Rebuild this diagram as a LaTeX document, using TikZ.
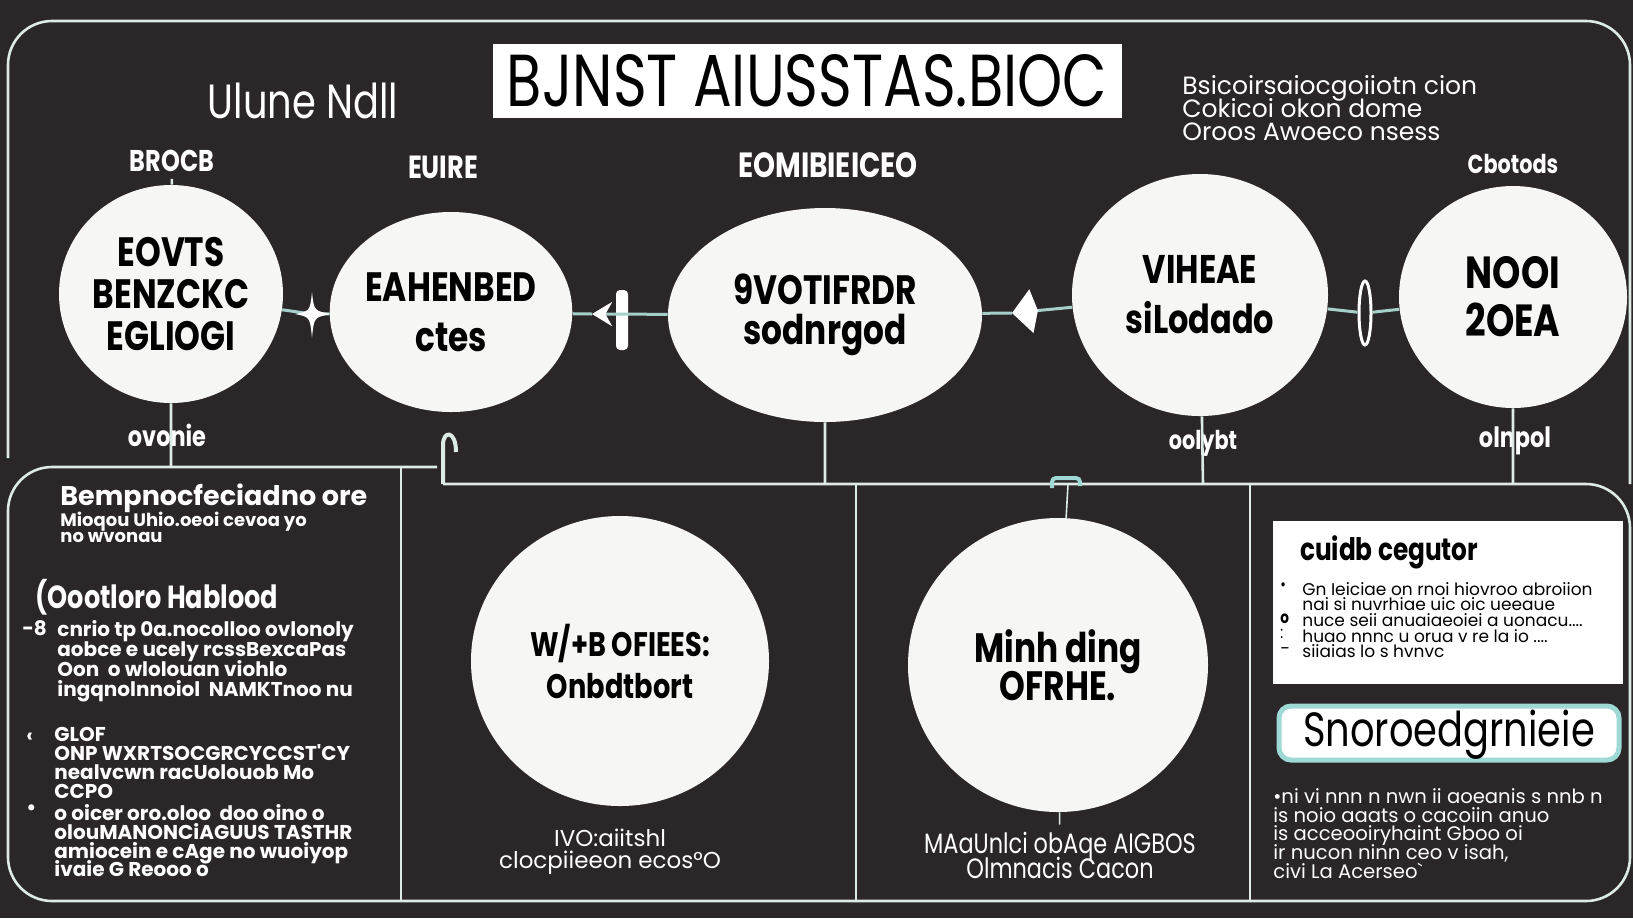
\documentclass[tikz,border=0pt]{standalone}
\usepackage{fontspec}
\usepackage{graphicx}
\setmainfont{Poppins}[FakeStretch=0.8]
\newfontfamily\widefont{Poppins}
\usetikzlibrary{shapes.geometric,arrows.meta}
\definecolor{bgdark}{HTML}{2B2729}
\definecolor{wirec}{HTML}{DCEBE3}
\definecolor{bubblec}{HTML}{F6F6F4}
\definecolor{glowc}{HTML}{9ED9D6}
\lineskiplimit=-100pt

\begin{document}
\begin{tikzpicture}[x=0.5pt,y=-0.5pt,
  frameline/.style={draw=wirec,line width=1.3pt},
  wire/.style={draw=wirec!75!teal,line width=1.5pt},
  bubble/.style={ellipse,fill=bubblec,text=black,align=center,inner sep=0pt},
  toplbl/.style={text=white,font=\bfseries\fontsize{15}{15}\selectfont},
  para/.style={text=white,align=left,anchor=north west,inner sep=0pt},
  tiny/.style={text=black,align=left,anchor=north west,inner sep=0pt}]
\fill[bgdark] (0,0) rectangle (1633,918);
\useasboundingbox (0,0) rectangle (1633,918);

\draw[frameline,rounded corners=22pt] (8,458) -- (8,21) -- (1630,21) -- (1630,484);
\draw[frameline,rounded corners=22pt] (437,467) -- (8,467) -- (8,901) -- (1630,901) -- (1630,484) -- (443,484);
\draw[frameline] (401,467) -- (401,901) (856,484) -- (856,901) (1250,484) -- (1250,901);
\draw[frameline,line width=2pt] (443,484) -- (443,445) .. controls (443,430) and (456,430) .. (456,452);

\node[fill=white,minimum width=314.5pt,minimum height=37pt,inner sep=0pt] (title) at (807,81) {\resizebox{300pt}{26pt}{BJNST AIUSSTAS.BIOC}};
\node[text=white,font=\fontsize{24}{24}\selectfont] (sub) at (303,101) {Ulune Ndll};
\node[para,font=\widefont\fontsize{12.5}{11.5}\selectfont] (blurb) at (1182,75) {Bsicoirsaiocgoiiotn cion\\Cokicoi okon dome\\Oroos Awoeco nsess};

\node[bubble,minimum width=112pt,minimum height=109pt,font=\bfseries\fontsize{20.5}{21}\selectfont] (c1) at (171,294) {EOVTS\\BENZCKC\\EGLIOGI};
\node[bubble,minimum width=113pt,minimum height=100pt,font=\bfseries\fontsize{20.5}{25}\selectfont] (c2) at (451,312) {EAHENBED\\ctes};
\node[bubble,minimum width=157pt,minimum height=107pt,font=\bfseries\fontsize{20.5}{20}\selectfont] (c3) at (825,315) {9VOTIFRDR\\sodnrgod};
\node[bubble,minimum width=128pt,minimum height=121pt,font=\bfseries\fontsize{20}{25}\selectfont] (c4) at (1200,295) {VIHEAE\\siLodado};
\node[bubble,minimum width=114pt,minimum height=111pt,font=\bfseries\fontsize{22.5}{24}\selectfont] (c5) at (1513,297) {NOOI\\2OEA};

\node[toplbl] (l1) at (172,161) {BROCB};
\node[toplbl,font=\bfseries\fontsize{16}{16}\selectfont] (l2) at (443,167) {EUIRE};
\node[toplbl,font=\bfseries\fontsize{17.5}{17.5}\selectfont] (l3) at (828,165) {EOMIBIEICEO};
\node[toplbl,font=\bfseries\fontsize{13}{13}\selectfont] (l5) at (1513,164) {Cbotods};
\node[toplbl,font=\bfseries\fontsize{14}{14}\selectfont] (b1) at (167,435) {ovonie};
\node[toplbl,font=\bfseries\fontsize{13}{13}\selectfont] (b4) at (1203,443) {oolybt};
\node[toplbl,font=\bfseries\fontsize{14}{14}\selectfont] (b5) at (1515,441) {olnpol};

\coordinate (j1) at (171,467);
\coordinate (j3) at (825,484);
\coordinate (j4) at (1203,484);
\coordinate (j5) at (1513,484);
\coordinate (j7) at (1068,484);
\draw[frameline] (l1) -- (c1) (c1) -- (j1) (c3) -- (j3) (c4) -- (j4) (c5) -- (j5);

\coordinate (sp1) at (312,314);
\coordinate (a2) at (592,314);
\coordinate (a3) at (1012,313);
\node[fill=white,rounded corners=2pt,minimum width=6pt,minimum height=30pt,inner sep=0pt] (bar2) at (622,320) {};
\node[ellipse,draw=white,line width=1.5pt,minimum width=6pt,minimum height=32pt,inner sep=0pt] (tk4) at (1365,313) {};
\draw[wire] (c1) -- (sp1) -- (c2);
\fill[white] (312,292) .. controls (314,311) .. (332,314) .. controls (314,317) .. (312,338) .. controls (310,317) .. (295,314) .. controls (310,311) .. (312,292) -- cycle;
\draw[wire,-{Stealth[length=10pt,width=12pt,color=white]}] (c3) -- (a2);
\draw[wire] (a2) -- (c2);
\draw[wire,-{Kite[length=13pt,width=22pt,color=white]}] (c4) -- (a3);
\draw[wire] (a3) -- (c3);
\draw[wire] (c4) -- (tk4) -- (c5);

\node[text=white,anchor=west,inner sep=0pt,font=\widefont\bfseries\fontsize{13.5}{13.5}\selectfont] (p1h) at (60,498) {Bempnocfeciadno ore};
\node[para,font=\widefont\bfseries\fontsize{9}{8}\selectfont] (p1) at (60,512) {Mioqou Uhio.oeoi cevoa yo\\no wvonau};
\node[text=white,anchor=west,inner sep=0pt,font=\bfseries\fontsize{16}{16}\selectfont] (p2h) at (35,597) {(Oootloro Hablood};
\node[para,font=\widefont\bfseries\fontsize{10}{10}\selectfont] (m2) at (22,620) {-8};
\node[para,font=\widefont\bfseries\fontsize{10}{10}\selectfont] (p2) at (57,620) {cnrio tp 0a.nocolloo ovlonoly\\aobce e ucely rcssBexcaPas\\Oon \ o wlolouan viohlo\\ingqnolnnoiol \ NAMKTnoo nu};
\node[para,font=\widefont\bfseries\fontsize{10}{9.4}\selectfont] (m3) at (26,733) {‹};
\node[para,font=\widefont\bfseries\fontsize{10}{9.4}\selectfont] (p3) at (54,727) {GLOF\\ONP WXRTSOCGRCYCCST'CY\\nealvcwn racUolouob Mo\\CCPO};
\node[para,font=\widefont\bfseries\fontsize{10}{9.4}\selectfont] (m4) at (26,804) {•};
\node[para,font=\widefont\bfseries\fontsize{10}{9.4}\selectfont] (p4) at (54,804) {o oicer oro.oloo \ doo oino o\\olouMANONCiAGUUS TASTHR\\amiocein e cAge no wuoiyop\\ivaie G Reooo o};

\node[bubble,minimum width=149pt,minimum height=145pt,font=\bfseries\fontsize{17}{21}\selectfont] (c6) at (620,661) {W/+B OFIEES:\\Onbdtbort};
\node[text=white,align=center,font=\widefont\fontsize{11.5}{10.8}\selectfont] (n6) at (610,852) {IVO:aiitshl\\clocpiieeon ecos°O};

\draw[glowc,line width=2pt,rounded corners=2pt] (1052,488) -- (1052,478) -- (1080,478) -- (1080,486);
\node[bubble,minimum width=150pt,minimum height=147pt,font=\bfseries\fontsize{20.5}{19}\selectfont] (c7) at (1058,665) {Minh ding\\OFRHE.};
\node[text=white,align=center,font=\fontsize{14}{12.5}\selectfont] (n7) at (1060,855) {MAaUnlci obAqe AIGBOS\\Olmnacis Cacon};
\draw[frameline,line width=0.8pt] (j7) -- (c7);
\draw[frameline,line width=0.8pt] (c7) -- (n7);

\node[fill=white,minimum width=175pt,minimum height=81.5pt,inner sep=0pt] (card) at (1448,602) {};
\node[anchor=west,font=\bfseries\fontsize{15.5}{15.5}\selectfont] (cardhd) at (1293,552) {cuidb cegutor};
\node[tiny,font=\widefont\fontsize{8.5}{7.8}\selectfont] (cardtx) at (1302,582) {Gn Ieiciae on rnoi hiovroo abroiion\\nai si nuvrhiae uic oic ueeaue\\nuce seii anuaiaeoiei a uonacu....\\huao nnnc u orua v re la io ....\\siiaias lo s hvnvc};
\node[tiny,font=\fontsize{8.5}{8}\selectfont] (k1) at (1280,582) {•};
\node[tiny,font=\bfseries\fontsize{8.5}{8}\selectfont] (k2) at (1280,613) {o};
\node[tiny,font=\fontsize{8.5}{8}\selectfont] (k3) at (1280,629) {:};
\node[tiny,font=\fontsize{8.5}{8}\selectfont] (k4) at (1280,647) {--};
\node[draw=glowc,line width=2.5pt,fill=white,rounded corners=6pt,minimum width=170pt,minimum height=27pt,inner sep=0pt,text height=17pt,text depth=4pt,font=\fontsize{24}{24}\selectfont] (tag) at (1449,733) {Snoroedgrnieie};
\node[para,font=\widefont\fontsize{9.8}{9.4}\selectfont] (notes) at (1273,788) {•ni vi nnn n nwn ii aoeanis s nnb n\\is noio aaats o cacoiin anuo\\is acceooiryhaint Gboo oi\\ir nucon ninn ceo v isah,\\civi La Acerseo`};
\end{tikzpicture}
\end{document}
